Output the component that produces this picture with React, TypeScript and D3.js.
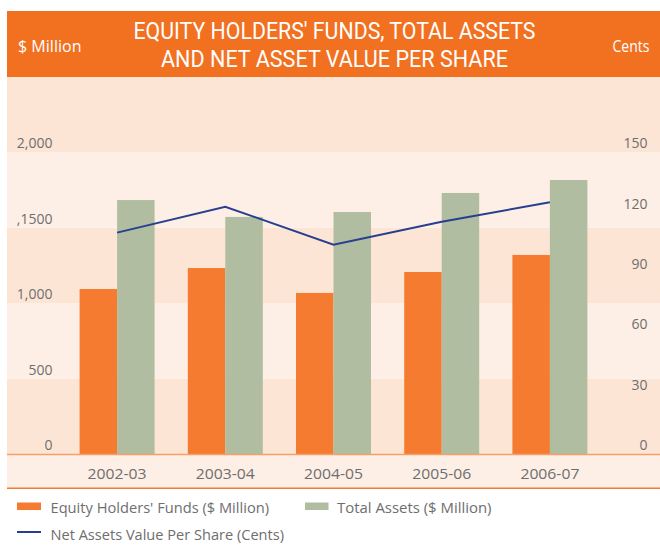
import React from 'react';
import * as d3 from 'd3';

const years = ['2002-03', '2003-04', '2004-05', '2005-06', '2006-07'];
const equityFunds = [1094, 1233, 1068, 1207, 1320];
const totalAssets = [1684, 1572, 1605, 1731, 1817];
const navCents = [110.1, 123, 104.1, 115.5, 125.2];
const leftTicks = [0, 500, 1000, 1500, 2000];
const leftTickLabels = ['0', '500', '1,000', ',1500', '2,000'];
const rightTicks = [0, 30, 60, 90, 120, 150];
const seriesKeys = ['equity', 'assets'];
const titleLines = ["EQUITY HOLDERS' FUNDS, TOTAL ASSETS", 'AND NET ASSET VALUE PER SHARE'];

const W = 660;
const H = 545;
const ORANGE = '#F47B30';
const BANNER = '#F27121';
const GREEN = '#B1BDA0';
const BLUE = '#273F91';
const DARK_BAND = '#FDE5D5';
const LIGHT_BAND = '#FDEFE5';
const TEXT = '#6E6E6E';
const FONT = '"Open Sans", "Noto Sans", sans-serif';
const TITLE_FONT = 'Roboto, "Open Sans", sans-serif';

export default function App() {
  const plotLeft = 7;
  const plotRight = 660;
  const zeroY = 454;
  const topY = 77;

  const x = d3.scaleBand<string>().domain(years).range([63, 604]).paddingInner(0.307).paddingOuter(0.1535);
  const xs = d3.scaleBand<string>().domain(seriesKeys).range([0, x.bandwidth()]);
  const yL = d3.scaleLinear().domain([0, 2500]).range([zeroY, topY]);
  const yR = d3.scaleLinear().domain([0, 187.5]).range([zeroY, topY]);

  const bandEdges = [0, 500, 1000, 1500, 2000, 2500];
  const line = d3
    .line<number>()
    .x((_, i) => (x(years[i]) as number) + x.bandwidth() / 2)
    .y((d) => yR(d));

  return (
    <svg
      width={W}
      height={H}
      style={{ position: 'absolute', left: 0, top: 0, background: '#fff', fontFamily: FONT }}
    >
      {/* background bands */}
      {bandEdges.slice(0, -1).map((v, i) => (
        <rect
          key={'b' + i}
          x={plotLeft}
          y={yL(bandEdges[i + 1])}
          width={plotRight - plotLeft}
          height={yL(v) - yL(bandEdges[i + 1])}
          fill={i % 2 === 0 ? DARK_BAND : LIGHT_BAND}
        />
      ))}
      <rect x={plotLeft} y={zeroY} width={plotRight - plotLeft} height={488 - zeroY} fill={LIGHT_BAND} />

      {/* banner */}
      <rect x={plotLeft} y={11} width={plotRight - plotLeft} height={topY - 11} fill={BANNER} />
      <text x={334.5} y={38.5} fill="#fff" fontSize={23} fontFamily={TITLE_FONT} textAnchor="middle" textLength={402} lengthAdjust="spacingAndGlyphs">
        {titleLines[0]}
      </text>
      <text x={334.5} y={67} fill="#fff" fontSize={23} fontFamily={TITLE_FONT} textAnchor="middle" textLength={347} lengthAdjust="spacingAndGlyphs">
        {titleLines[1]}
      </text>
      <text x={18} y={52.3} fill="#fff" fontSize={16} textLength={63.5} lengthAdjust="spacingAndGlyphs">
        $ Million
      </text>
      <text x={649.5} y={52.3} fill="#fff" fontSize={16} textAnchor="end" textLength={37} lengthAdjust="spacingAndGlyphs">
        Cents
      </text>

      {/* bars */}
      {years.map((yr, i) => (
        <g key={yr} transform={`translate(${x(yr)},0)`}>
          <rect
            x={xs('equity')}
            y={yL(equityFunds[i])}
            width={xs.bandwidth()}
            height={zeroY - yL(equityFunds[i])}
            fill={ORANGE}
          />
          <rect
            x={xs('assets')}
            y={yL(totalAssets[i])}
            width={xs.bandwidth()}
            height={zeroY - yL(totalAssets[i])}
            fill={GREEN}
          />
        </g>
      ))}

      {/* line */}
      <path d={line(navCents) || ''} fill="none" stroke={BLUE} strokeWidth={2} strokeLinejoin="miter" />

      {/* zero line and bottom line */}
      <line x1={plotLeft} x2={plotRight} y1={zeroY + 0.5} y2={zeroY + 0.5} stroke="#F5A06A" strokeWidth={1.5} />
      <line x1={plotLeft} x2={plotRight} y1={488.3} y2={488.3} stroke={ORANGE} strokeWidth={1.5} />

      {/* left axis labels */}
      {leftTicks.map((t, i) => (
        <text key={'l' + t} x={52.5} y={yL(t) - 4} fill={TEXT} fontSize={14} textAnchor="end">
          {leftTickLabels[i]}
        </text>
      ))}
      {/* right axis labels */}
      {rightTicks.map((t) => (
        <text key={'r' + t} x={647.5} y={yR(t) - 4} fill={TEXT} fontSize={14} textAnchor="end">
          {t}
        </text>
      ))}
      {/* x labels */}
      {years.map((yr) => (
        <text
          key={'x' + yr}
          x={(x(yr) as number) + x.bandwidth() / 2}
          y={479.3}
          fill={TEXT}
          fontSize={15}
          textAnchor="middle"
          textLength={59}
          lengthAdjust="spacingAndGlyphs"
        >
          {yr}
        </text>
      ))}

      {/* legend */}
      <rect x={17} y={502.5} width={24} height={7.5} fill={ORANGE} />
      <text x={50.5} y={512.5} fill={TEXT} fontSize={15} textLength={218.5} lengthAdjust="spacingAndGlyphs">
        Equity Holders' Funds ($ Million)
      </text>
      <rect x={305} y={502.5} width={23.5} height={7.5} fill={GREEN} />
      <text x={337} y={512.5} fill={TEXT} fontSize={15} textLength={154.5} lengthAdjust="spacingAndGlyphs">
        Total Assets ($ Million)
      </text>
      <line x1={17} x2={41} y1={532} y2={532} stroke={BLUE} strokeWidth={2} />
      <text x={50.5} y={540} fill={TEXT} fontSize={15} textLength={233.5} lengthAdjust="spacingAndGlyphs">
        Net Assets Value Per Share (Cents)
      </text>
    </svg>
  );
}
